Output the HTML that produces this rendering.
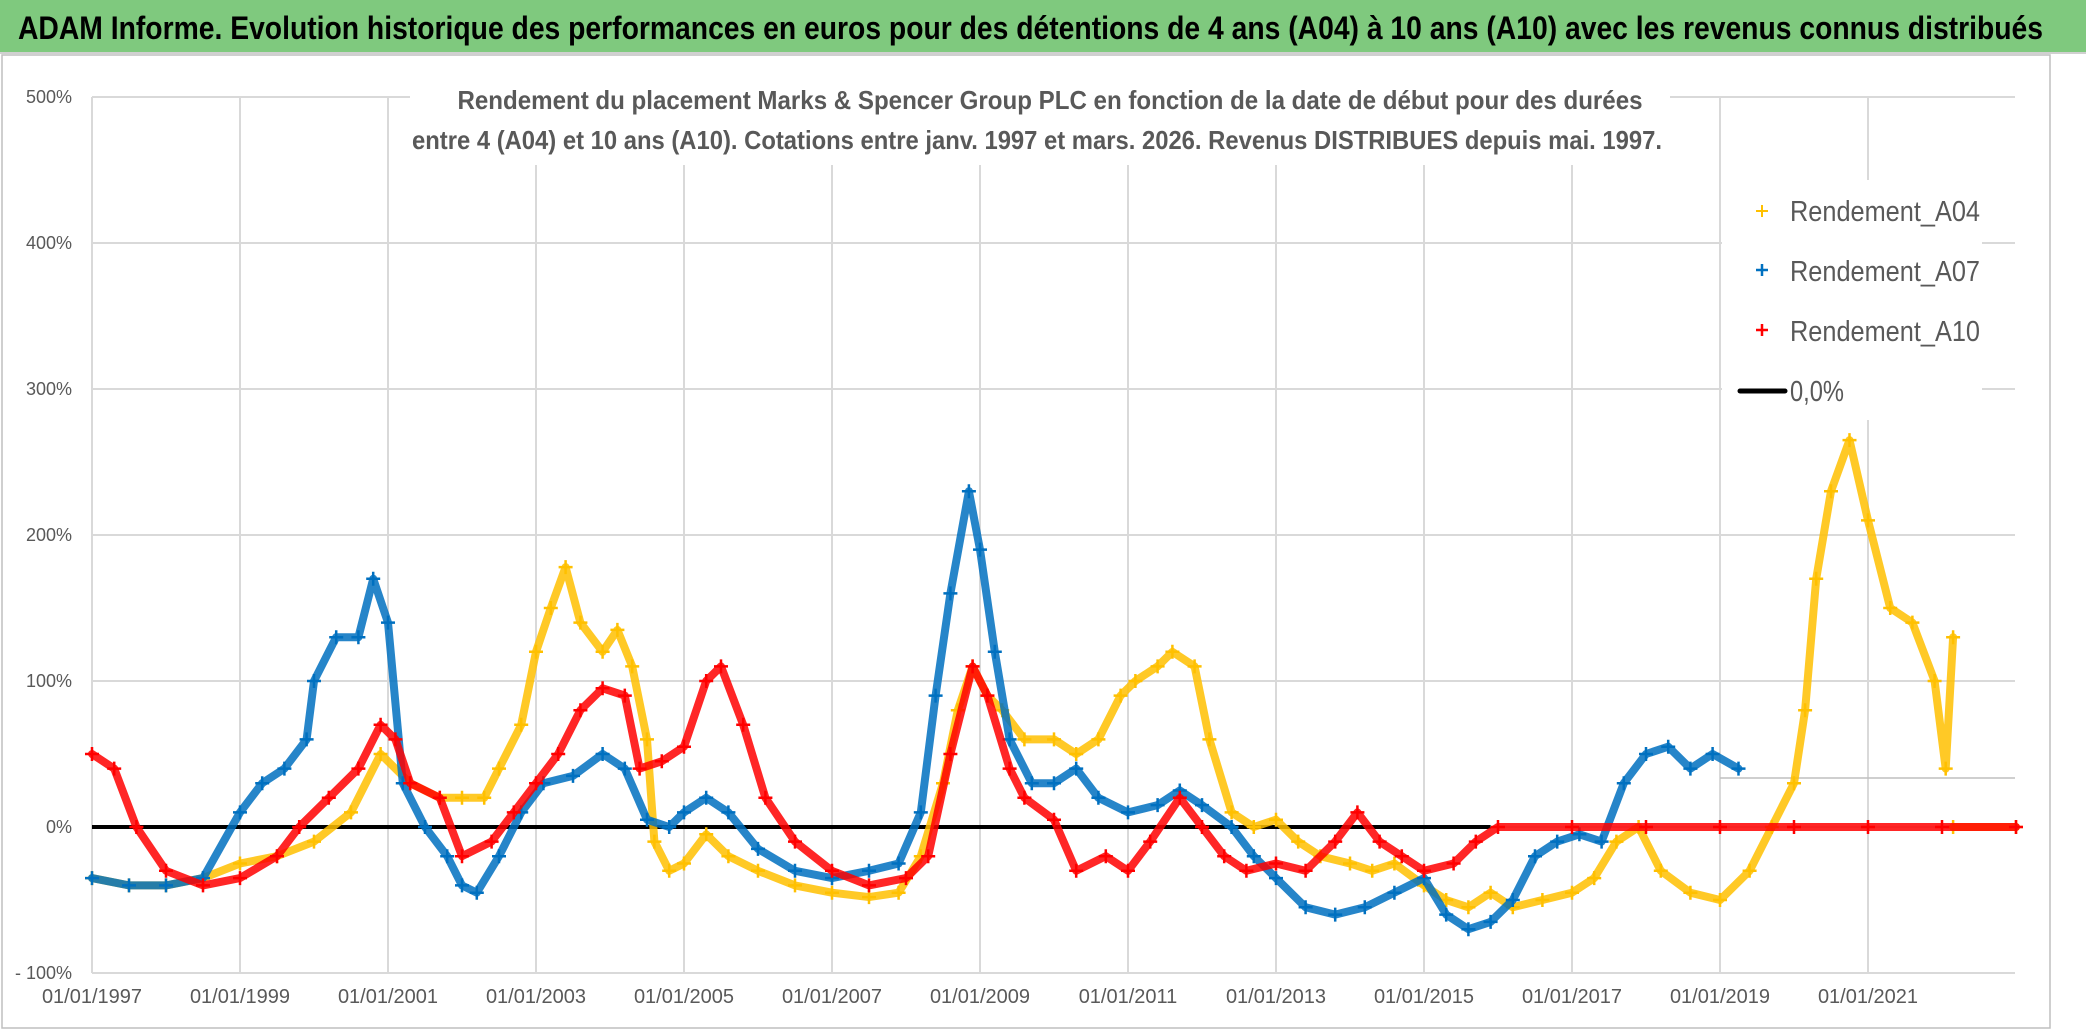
<!DOCTYPE html>
<html><head><meta charset="utf-8">
<style>
html,body{margin:0;padding:0;background:#fff;}
svg{display:block;font-family:"Liberation Sans Narrow","Liberation Sans",sans-serif;}
</style></head>
<body>
<svg id="chart" width="2086" height="1031" viewBox="0 0 2086 1031" xmlns="http://www.w3.org/2000/svg">
  <rect x="0" y="0" width="2086" height="1031" fill="#fff"/>
  <rect x="0" y="0" width="2086" height="52" fill="#7fc97e"/>
  <line x1="0" y1="53" x2="2086" y2="53" stroke="#d0d0d0" stroke-width="2"/>
  <text x="18" y="39" font-size="32" font-weight="bold" fill="#000" textLength="2025" lengthAdjust="spacingAndGlyphs">ADAM Informe. Evolution historique des performances en euros pour des détentions de 4 ans (A04) à 10 ans (A10) avec les revenus connus distribués</text>
  <rect x="2" y="55" width="2048" height="973" fill="none" stroke="#bfbfbf" stroke-width="1.5"/>
  <g id="grid"></g>
  <g id="yaxis"></g>
  <g id="xaxis"></g>
  <rect x="410" y="70" width="1260" height="95" fill="#fff"/>
  <text x="1050" y="109" font-size="26" font-weight="bold" fill="#595959" text-anchor="middle" textLength="1185" lengthAdjust="spacingAndGlyphs">Rendement du placement Marks &amp; Spencer Group PLC en fonction de la date de début pour des durées</text>
  <text x="1037" y="149" font-size="26" font-weight="bold" fill="#595959" text-anchor="middle" textLength="1250" lengthAdjust="spacingAndGlyphs">entre 4 (A04) et 10 ans (A10). Cotations entre janv. 1997 et mars. 2026. Revenus DISTRIBUES depuis mai. 1997.</text>
  <line id="zeroline" x1="92" x2="1600" y1="827" y2="827" stroke="#000" stroke-width="4"/>
  <g id="series"></g>
  <g id="legend">
    <rect x="1722" y="180" width="260" height="240" fill="#fff"/>
    <g>
      <path d="M1756 211h12M1762 205v12" stroke="#ffc000" stroke-width="2"/>
      <text x="1790" y="221" font-size="29" fill="#595959" textLength="190" lengthAdjust="spacingAndGlyphs">Rendement_A04</text>
    </g>
    <g>
      <path d="M1756 270h12M1762 264v12" stroke="#0070c0" stroke-width="2.5"/>
      <text x="1790" y="281" font-size="29" fill="#595959" textLength="190" lengthAdjust="spacingAndGlyphs">Rendement_A07</text>
    </g>
    <g>
      <path d="M1756 330h12M1762 324v12" stroke="#ff0000" stroke-width="2.5"/>
      <text x="1790" y="341" font-size="29" fill="#595959" textLength="190" lengthAdjust="spacingAndGlyphs">Rendement_A10</text>
    </g>
    <g>
      <line x1="1740" y1="391" x2="1785" y2="391" stroke="#000" stroke-width="5" stroke-linecap="round"/>
      <text x="1790" y="401" font-size="29" fill="#595959" textLength="54" lengthAdjust="spacingAndGlyphs">0,0%</text>
    </g>
  </g>
</svg>
<script>
// axis tick data
const yTicks = [500, 400, 300, 200, 100, 0, -100];
const yTickLabels = ["500%", "400%", "300%", "200%", "100%", "0%", "- 100%"];
const xTicks = [1997, 1999, 2001, 2003, 2005, 2007, 2009, 2011, 2013, 2015, 2017, 2019, 2021];
const xTickLabels = ["01/01/1997","01/01/1999","01/01/2001","01/01/2003","01/01/2005","01/01/2007","01/01/2009","01/01/2011","01/01/2013","01/01/2015","01/01/2017","01/01/2019","01/01/2021"];

// series data (date as decimal year, value in %)
const a04Dates = [1997,1997.5,1998,1998.5,1999,1999.5,2000,2000.5,2000.9,2001.3,2001.7,2002,2002.3,2002.5,2002.8,2003,2003.2,2003.4,2003.6,2003.9,2004.1,2004.3,2004.5,2004.6,2004.8,2005,2005.3,2005.6,2006,2006.5,2007,2007.5,2007.9,2008.2,2008.5,2008.7,2008.9,2009.1,2009.3,2009.6,2010,2010.3,2010.6,2010.9,2011.1,2011.4,2011.6,2011.9,2012.1,2012.4,2012.7,2013,2013.3,2013.6,2014,2014.3,2014.6,2015,2015.3,2015.6,2015.9,2016.2,2016.6,2017,2017.3,2017.6,2017.9,2018.2,2018.6,2019,2019.4,2019.7,2020,2020.15,2020.3,2020.5,2020.75,2021,2021.3,2021.6,2021.9,2022.05,2022.15];
const a04Values = [-35,-40,-40,-35,-25,-20,-10,10,50,30,20,20,20,40,70,120,150,178,140,120,135,110,60,-10,-30,-25,-5,-20,-30,-40,-45,-48,-45,-20,30,80,110,90,80,60,60,50,60,90,100,110,120,110,60,10,0,5,-10,-20,-25,-30,-25,-40,-50,-55,-45,-55,-50,-45,-35,-10,0,-30,-45,-50,-30,0,30,80,170,230,265,210,150,140,100,40,130];
const a07Dates = [1997,1997.5,1998,1998.5,1999,1999.3,1999.6,1999.9,2000,2000.3,2000.6,2000.8,2001,2001.2,2001.5,2001.8,2002,2002.2,2002.5,2002.8,2003.1,2003.5,2003.9,2004.2,2004.5,2004.8,2005,2005.3,2005.6,2006,2006.5,2007,2007.5,2007.9,2008.2,2008.4,2008.6,2008.85,2009,2009.2,2009.4,2009.7,2010,2010.3,2010.6,2011,2011.4,2011.7,2012,2012.4,2012.7,2013,2013.4,2013.8,2014.2,2014.6,2015,2015.3,2015.6,2015.9,2016.2,2016.5,2016.8,2017.1,2017.4,2017.7,2018,2018.3,2018.6,2018.9,2019.25];
const a07Values = [-35,-40,-40,-35,10,30,40,60,100,130,130,170,140,30,0,-20,-40,-45,-20,10,30,35,50,40,5,0,10,20,10,-15,-30,-35,-30,-25,10,90,160,230,190,120,60,30,30,40,20,10,15,25,15,0,-20,-35,-55,-60,-55,-45,-35,-60,-70,-65,-50,-20,-10,-5,-10,30,50,55,40,50,40];
const a10Dates = [1997,1997.3,1997.6,1998,1998.5,1999,1999.5,1999.8,2000.2,2000.6,2000.9,2001.1,2001.3,2001.7,2002,2002.4,2002.7,2003,2003.3,2003.6,2003.9,2004.2,2004.4,2004.7,2005,2005.3,2005.5,2005.8,2006.1,2006.5,2007,2007.5,2008,2008.3,2008.6,2008.9,2009.1,2009.4,2009.6,2010,2010.3,2010.7,2011,2011.3,2011.7,2012,2012.3,2012.6,2013,2013.4,2013.8,2014.1,2014.4,2014.7,2015,2015.4,2015.7,2016,2017,2018,2019,2020,2021,2022,2023];
const a10Values = [50,40,0,-30,-40,-35,-20,0,20,40,70,60,30,20,-20,-10,10,30,50,80,95,90,40,45,55,100,110,70,20,-10,-30,-40,-35,-20,50,110,90,40,20,5,-30,-20,-30,-10,20,0,-20,-30,-25,-30,-10,10,-10,-20,-30,-25,-10,0,0,0,0,0,0,0,0];
const a04ZeroDates = [2022.15, 2023];
const a04ZeroValues = [0, 0];

const NS = "http://www.w3.org/2000/svg";
const X0 = 92, PXY = 74, Y0 = 827, PXV = 1.46;
function xScale(d){ return X0 + (d - 1997) * PXY; }
function yScale(v){ return Y0 - v * PXV; }
function mk(tag, attrs, parent){
  const e = document.createElementNS(NS, tag);
  for (const k in attrs) e.setAttribute(k, attrs[k]);
  parent.appendChild(e);
  return e;
}
const grid = document.getElementById('grid');
const yaxis = document.getElementById('yaxis');
const xaxis = document.getElementById('xaxis');
const XEND = 2015;

yTicks.forEach((t, i) => {
  const l = mk('line', {x1: X0, x2: XEND, y1: yScale(t), y2: yScale(t), stroke: '#d9d9d9', 'stroke-width': 2}, grid);
  
  
  const tx = mk('text', {x: 72, y: yScale(t) + 6, 'font-size': 18, fill: '#595959', 'text-anchor': 'end'}, yaxis);
  tx.textContent = yTickLabels[i];
  
  
});
xTicks.forEach((t, i) => {
  const l = mk('line', {x1: xScale(t), x2: xScale(t), y1: yScale(500), y2: yScale(-100), stroke: '#d9d9d9', 'stroke-width': 2}, grid);
  
  
  const tx = mk('text', {x: xScale(t), y: 1003, 'font-size': 20, fill: '#595959', 'text-anchor': 'middle'}, xaxis);
  tx.textContent = xTickLabels[i];
  
  
});
const extra = mk('line', {x1: 1720, x2: XEND, y1: 778, y2: 778, stroke: '#bfbfbf', 'stroke-width': 1.5}, grid);


const z = document.getElementById('zeroline');
z.setAttribute('x1', xScale(1997));
z.setAttribute('x2', xScale(2015.9));

const series = document.getElementById('series');
function drawSeries(name, dates, vals, color){
  const g = mk('g', {}, series);
  
  
  const pts = dates.map((d, i) => xScale(d) + ',' + yScale(vals[i])).join(' ');
  const pl = mk('polyline', {points: pts, fill: 'none', stroke: color, 'stroke-width': 8, 'stroke-linejoin': 'round', 'stroke-linecap': 'round', opacity: 0.85}, g);
  
  
  dates.forEach((d, i) => {
    const x = xScale(d), y = yScale(vals[i]);
    const p = mk('path', {d: `M${x-7} ${y}h14M${x} ${y-7}v14`, stroke: color, 'stroke-width': 2.5}, g);
    
    
  });
}
drawSeries('series-a04', a04Dates, a04Values, '#ffc000');
drawSeries('series-a04-zero', a04ZeroDates, a04ZeroValues, '#ffc000');
drawSeries('series-a07', a07Dates, a07Values, '#0070c0');
drawSeries('series-a10', a10Dates, a10Values, '#ff0000');
</script>
</body></html>
